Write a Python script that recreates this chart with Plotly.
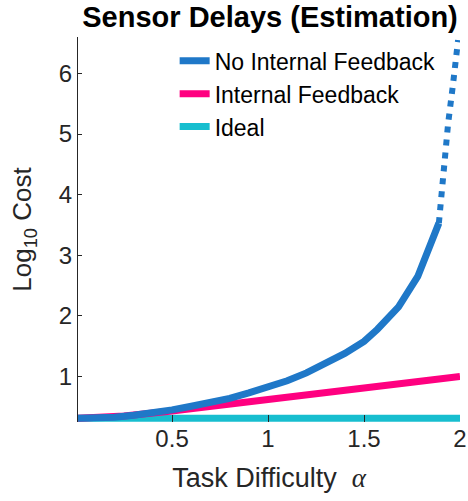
import plotly.graph_objects as go

# ---- data ----
x_nofb = [0.01, 0.1, 0.2, 0.3, 0.4, 0.5, 0.6, 0.7, 0.8, 0.9, 1.0, 1.1, 1.2, 1.3, 1.4, 1.5, 1.57, 1.68, 1.78, 1.89]
y_nofb = [0.31, 0.315, 0.33, 0.36, 0.40, 0.45, 0.51, 0.57, 0.64, 0.73, 0.82, 0.93, 1.06, 1.21, 1.38, 1.58, 1.78, 2.15, 2.65, 3.53]

x_nofb_ext = [1.89, 1.917, 1.938, 1.964, 1.985, 1.99]
y_nofb_ext = [3.53, 4.52, 5.17, 5.83, 6.45, 6.55]

x_fb = [0.01, 0.25, 0.5, 0.75, 1.0, 1.25, 1.5, 1.75, 2.0]
y_fb = [0.31, 0.35, 0.43, 0.52, 0.62, 0.715, 0.81, 0.905, 1.0]

x_ideal = [0.01, 2.0]
y_ideal = [0.31, 0.31]

series_names = ["No Internal Feedback", "Internal Feedback", "Ideal"]
x_ticks = [0.5, 1, 1.5, 2]
x_ticklabels = ["0.5", "1", "1.5", "2"]
y_ticks = [1, 2, 3, 4, 5, 6]

BLUE = "#1F78C8"
PINK = "#FF0080"
CYAN = "#17BECF"
TXT = "#262626"
FONT = "Liberation Sans, Arial, sans-serif"

fig = go.Figure()
fig.add_trace(go.Scatter(x=x_ideal, y=y_ideal, mode="lines", name=series_names[2],
                         line=dict(color=CYAN, width=7), legendrank=3))
fig.add_trace(go.Scatter(x=x_fb, y=y_fb, mode="lines", name=series_names[1],
                         line=dict(color=PINK, width=7), legendrank=2))
fig.add_trace(go.Scatter(x=x_nofb, y=y_nofb, mode="lines", name=series_names[0],
                         line=dict(color=BLUE, width=7), legendrank=1))
fig.add_trace(go.Scatter(x=x_nofb_ext, y=y_nofb_ext, mode="lines", showlegend=False,
                         line=dict(color=BLUE, width=6, dash="6px,7px")))

fig.update_layout(
    width=468, height=501,
    margin=dict(l=78, r=8, t=37, b=79, autoexpand=False),
    paper_bgcolor="white", plot_bgcolor="white",
    font=dict(family=FONT, color=TXT, size=24),
    title=dict(text="<b>Sensor Delays (Estimation)</b>", x=0.577, xanchor="center",
               y=0.967, yanchor="middle", font=dict(size=29, color="black", family=FONT)),
    showlegend=True,
    legend=dict(x=0.253, xanchor="left", y=0.994, yanchor="top",
                bgcolor="rgba(0,0,0,0)", borderwidth=0,
                font=dict(size=23, color="black", family=FONT),
                traceorder="normal", itemwidth=30),
    xaxis=dict(range=[0.01, 2.0], tickvals=x_ticks, ticktext=x_ticklabels,
               showgrid=False, zeroline=False, showline=False, automargin=False,
               ticks="inside", ticklen=7, tickcolor=TXT, tickwidth=1,
               tickfont=dict(size=24, color=TXT),
               title=dict(text="Task Difficulty  <span style='font-family:Liberation Serif'><i>α</i></span>",
                          font=dict(size=27, color=TXT), standoff=17)),
    yaxis=dict(range=[0.25, 6.60], tickvals=y_ticks, automargin=False,
               showgrid=False, zeroline=False, showline=True, linecolor=TXT, linewidth=1,
               ticks="inside", ticklen=4, tickcolor=TXT, tickwidth=1,
               tickfont=dict(size=24, color=TXT),
               title=dict(text="Log<sub>10</sub> Cost", font=dict(size=26, color=TXT), standoff=19)),
)

fig.write_html("out.html", config={"displayModeBar": False},
               post_script="document.body.style.margin='0px';")
